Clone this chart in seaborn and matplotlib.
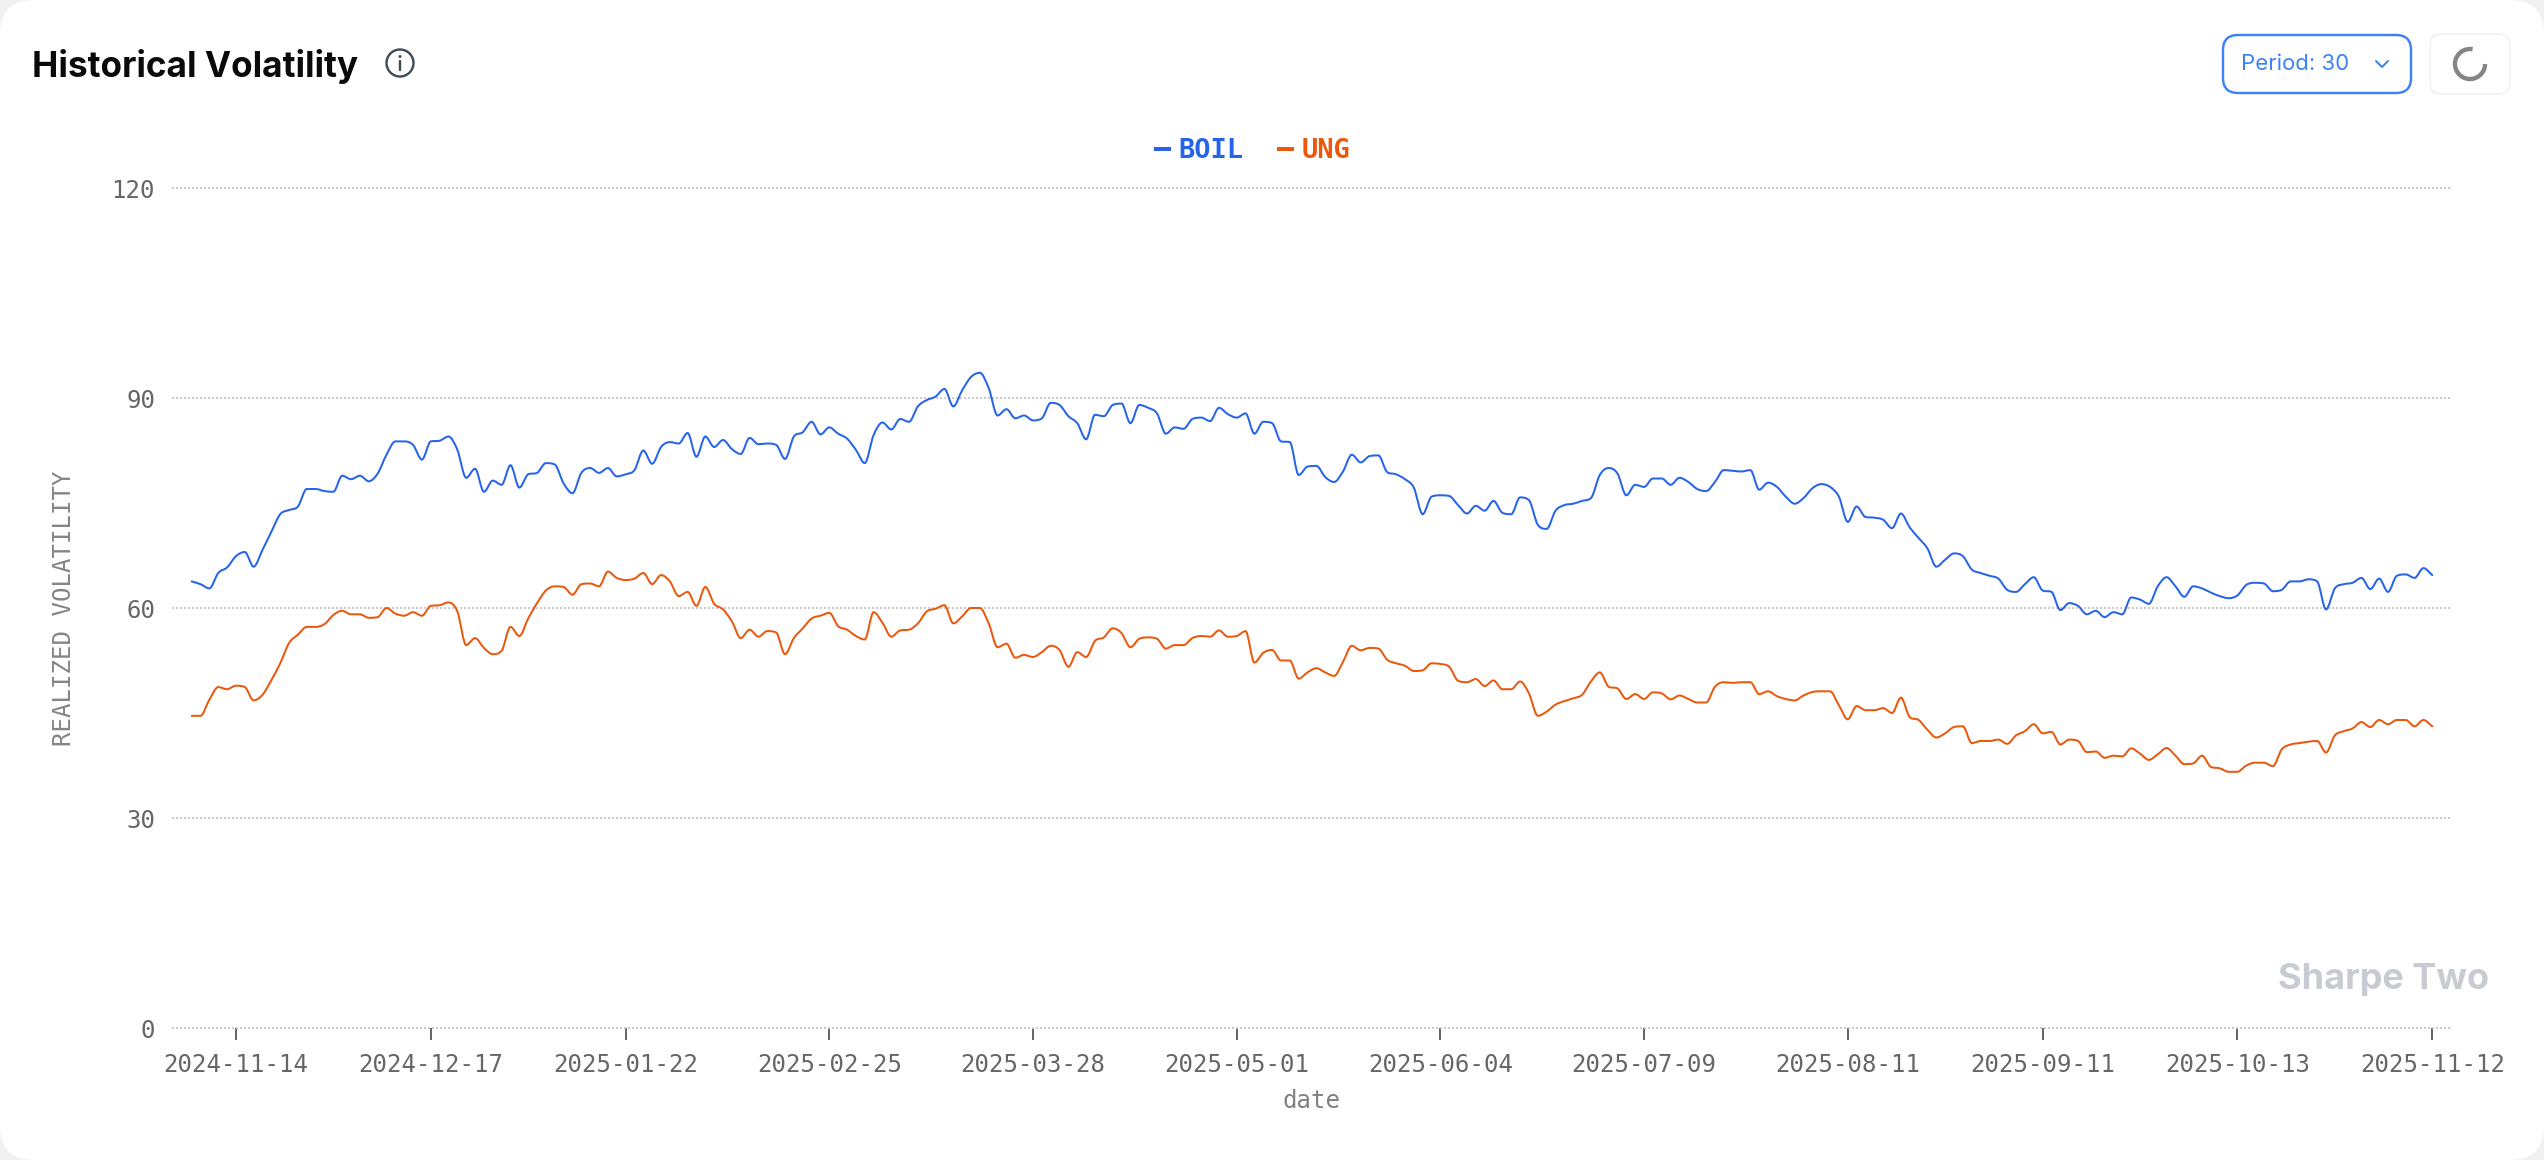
import numpy as np
import pandas as pd
import seaborn as sns
import matplotlib
matplotlib.use("Agg")
import matplotlib.pyplot as plt
from matplotlib.patches import FancyBboxPatch, Circle, Arc, PathPatch
from matplotlib.path import Path
from matplotlib.lines import Line2D

boil = [63.8,63.4,62.8,65.0,65.8,67.4,68.0,65.9,68.3,70.9,73.4,74.0,74.5,77.0,77.0,76.7,76.6,78.9,78.4,78.9,
        78.1,79.2,81.9,83.8,83.8,83.3,81.2,83.8,83.9,84.5,82.6,78.6,79.9,76.6,78.2,77.6,80.4,77.2,79.1,79.3,
        80.7,80.5,77.8,76.4,79.3,80.0,79.3,80.0,78.8,79.1,79.7,82.5,80.6,83.0,83.7,83.5,85.0,81.6,84.5,83.0,
        84.0,82.7,82.0,84.3,83.4,83.5,83.3,81.3,84.5,85.1,86.6,84.8,85.8,84.9,84.2,82.6,80.7,84.7,86.5,85.5,
        87.0,86.6,88.8,89.7,90.2,91.3,88.8,91.1,93.0,93.6,91.4,87.5,88.4,87.1,87.5,86.8,87.1,89.3,89.0,87.4,
        86.4,84.1,87.6,87.4,89.0,89.2,86.4,89.0,88.6,87.8,84.9,85.8,85.6,87.0,87.2,86.7,88.6,87.7,87.2,87.8,
        84.9,86.6,86.4,83.8,83.7,79.0,80.2,80.3,78.7,78.0,79.5,81.9,80.8,81.7,81.8,79.4,79.1,78.4,77.2,73.4,
        75.9,76.1,76.0,74.7,73.5,74.6,73.9,75.3,73.6,73.4,75.8,75.4,71.9,71.3,73.9,74.7,74.9,75.3,75.7,79.0,
        80.0,79.2,76.1,77.6,77.3,78.5,78.5,77.6,78.6,78.0,77.0,76.7,78.0,79.7,79.6,79.5,79.7,76.9,77.9,77.3,
        75.9,74.9,75.7,77.1,77.7,77.3,75.9,72.3,74.5,73.0,72.9,72.6,71.4,73.5,71.5,70.0,68.5,65.9,66.9,67.8,
        67.4,65.5,65.0,64.6,64.2,62.6,62.3,63.4,64.4,62.5,62.3,59.7,60.7,60.3,59.1,59.6,58.7,59.4,59.1,61.5,
        61.2,60.6,63.1,64.4,63.1,61.6,63.1,62.8,62.2,61.7,61.4,61.8,63.3,63.6,63.5,62.4,62.6,63.8,63.8,64.1,
        63.8,59.8,62.8,63.4,63.6,64.3,62.7,64.2,62.3,64.6,64.8,64.3,65.7,64.7]

ung = [44.6,44.6,46.9,48.7,48.4,48.9,48.7,46.8,47.6,49.7,52.1,55.0,56.2,57.3,57.3,57.7,59.0,59.6,59.1,59.1,
       58.6,58.7,60.0,59.2,58.9,59.4,58.9,60.3,60.4,60.8,59.5,54.7,55.7,54.3,53.4,53.9,57.3,56.0,58.5,60.7,
       62.5,63.1,63.0,61.9,63.4,63.5,63.1,65.2,64.3,64.0,64.2,65.0,63.4,64.7,63.8,61.7,62.3,60.3,63.0,60.6,
       59.8,58.1,55.7,56.9,55.9,56.7,56.5,53.4,55.7,57.1,58.5,58.9,59.3,57.4,56.9,56.0,55.5,59.4,57.9,55.9,
       56.8,56.9,57.8,59.5,59.9,60.4,57.8,58.8,60.0,60.0,57.8,54.4,54.9,52.9,53.3,53.0,53.7,54.6,54.0,51.6,
       53.7,53.0,55.3,55.8,57.1,56.4,54.4,55.6,55.8,55.6,54.2,54.7,54.7,55.7,56.0,55.9,56.8,55.9,56.0,56.7,
       52.2,53.6,54.0,52.5,52.5,49.9,50.8,51.4,50.8,50.3,52.3,54.6,53.95,54.3,54.2,52.6,52.1,51.75,51.0,51.1,
       52.1,52.0,51.6,49.6,49.4,49.85,48.85,49.65,48.4,48.4,49.5,47.8,44.6,45.2,46.2,46.7,47.1,47.6,49.5,50.8,
       48.75,48.5,47.0,47.7,47.0,47.95,47.8,46.95,47.5,47.0,46.5,46.5,48.75,49.4,49.3,49.4,49.4,47.7,48.1,47.4,
       47.0,46.8,47.5,48.0,48.1,48.1,46.1,44.1,46.0,45.4,45.4,45.7,45.0,47.2,44.4,44.0,42.6,41.5,42.1,43.0,
       43.1,40.7,41.0,41.0,41.2,40.6,41.8,42.4,43.4,42.1,42.3,40.5,41.2,41.0,39.4,39.5,38.6,38.9,38.8,39.95,
       39.2,38.3,39.1,40.0,38.9,37.7,37.8,38.9,37.3,37.1,36.6,36.6,37.5,37.9,37.9,37.4,39.8,40.5,40.7,40.9,
       41.0,39.35,41.8,42.4,42.8,43.7,43.0,44.0,43.4,44.0,44.0,43.1,44.0,43.1]

tick_index = [5,27,49,72,95,118,141,164,187,209,231,253]
tick_labels = ["2024-11-14","2024-12-17","2025-01-22","2025-02-25","2025-03-28","2025-05-01",
               "2025-06-04","2025-07-09","2025-08-11","2025-09-11","2025-10-13","2025-11-12"]
y_ticks = [0,30,60,90,120]
BLUE, ORANGE = "#2563EB", "#EA580C"

W, H = 2544, 1160
DPI = 100
px = 72 / DPI
sns.set_theme(style="white")
plt.rcParams["font.family"] = ["DejaVu Sans Mono"]
MONO = 24 * px
GRAY = "#666666"

fig = plt.figure(figsize=(W/DPI, H/DPI), dpi=DPI, facecolor="#F1F1F2")

# card + UI layer in pixel coordinates
ui = fig.add_axes([0, 0, 1, 1], zorder=0)
ui.set_xlim(0, W); ui.set_ylim(H, 0); ui.axis("off")
ui.add_patch(FancyBboxPatch((0, 0), W, H, boxstyle="round,pad=0,rounding_size=34",
                            fc="white", ec="none"))
ui.text(32, 66, "Historical Volatility", family="Inter", weight="bold", fontsize=35.2*px,
        color="#0A0A0A", va="center", ha="left")
ui.add_patch(Circle((400, 63), 13.5, fc="none", ec="#414B5A", lw=2.4*px))
ui.add_patch(Circle((400, 56.5), 1.5, fc="#414B5A", ec="none"))
ui.plot([400, 400], [61, 70], color="#414B5A", lw=2.4*px, solid_capstyle="round")
ui.add_patch(FancyBboxPatch((2223, 35), 188, 58, boxstyle="round,pad=0,rounding_size=15",
                            fc="white", ec="#3B82F6", lw=2.4*px))
ui.text(2241, 63.5, "Period: 30", family="Inter", fontsize=22.2*px, color="#3B82F6", va="center", ha="left")
ui.plot([2376, 2382, 2388], [61, 67, 61], color="#3B82F6", lw=2*px)
ui.add_patch(FancyBboxPatch((2430, 34), 80, 60, boxstyle="round,pad=0,rounding_size=12",
                            fc="white", ec="#F3F3F3", lw=2*px))
ui.add_patch(Arc((2470, 64), 30, 30, theta1=-0, theta2=280, angle=0, ec="#858585", lw=4.4*px))
ui.text(2383, 980, "Sharpe Two", family="Inter", weight="bold", fontsize=36*px, color="#C8CBD1",
        va="center", ha="center")
ui.text(64, 608, "REALIZED VOLATILITY", fontsize=MONO, color="#858585", rotation=90, va="center", ha="center")
ui.text(1311, 1101, "date", fontsize=MONO, color="#808080", va="center", ha="center")

# chart
L, R, T, B = 172, 2450, 188, 1028
ax = fig.add_axes([L/W, 1-B/H, (R-L)/W, (B-T)/H], zorder=1)
ax.patch.set_alpha(0)
df = pd.DataFrame({"idx": list(range(len(boil)))*2,
                   "vol": boil + ung,
                   "sym": ["BOIL"]*len(boil) + ["UNG"]*len(ung)})
sns.lineplot(data=df, x="idx", y="vol", hue="sym", palette={"BOIL": BLUE, "UNG": ORANGE},
             lw=2*px, legend=False, ax=ax, zorder=3)

# The reference uses a monotone smoothed line: redraw each seaborn line as a Bezier through its own points.
for line in list(ax.lines):
    xy = np.asarray(line.get_xydata(), float)
    n = len(xy)
    d = np.diff(xy[:, 1])
    m = np.zeros(n)
    m[1:-1] = np.where(d[:-1] * d[1:] > 0,
                       np.sign(d[1:]) * np.minimum(np.minimum(np.abs(d[:-1]), np.abs(d[1:])) * 3,
                                                   np.abs(d[:-1] + d[1:]) / 2), 0.0)
    m[0], m[-1] = d[0], d[-1]
    verts = [xy[0]]
    codes = [Path.MOVETO]
    for i in range(n - 1):
        verts += [xy[i] + [1/3, m[i]/3], xy[i+1] - [1/3, m[i+1]/3], xy[i+1]]
        codes += [Path.CURVE4] * 3
    ax.add_patch(PathPatch(Path(np.array(verts), codes), fc="none", ec=line.get_color(),
                           lw=2*px, capstyle="round", joinstyle="round", zorder=3))
    line.set_visible(False)

ax.set_xlim(-2.22, 255)
ax.set_ylim(0, 120)
ax.set_xticks(tick_index); ax.set_xticklabels(tick_labels)
ax.set_yticks(y_ticks)
ax.set_xlabel(""); ax.set_ylabel("")
for s in ax.spines.values():
    s.set_visible(False)
ax.grid(False)
ax.yaxis.grid(True, color="#CBCBCB", lw=2*px, linestyle=(0, (1, 1)))
ax.set_axisbelow(True)
for g in ax.yaxis.get_gridlines():
    g.set_clip_on(False)
ax.tick_params(axis="x", length=12*px, width=2*px, color=GRAY, labelcolor=GRAY, labelsize=MONO, pad=13*px, bottom=True)
ax.tick_params(axis="y", length=0, labelcolor=GRAY, labelsize=MONO, pad=17*px)

handles = [Line2D([], [], color=BLUE, lw=4*px, solid_capstyle="butt"),
           Line2D([], [], color=ORANGE, lw=4*px, solid_capstyle="butt")]
fs = 27*px
leg = fig.legend(handles, ["BOIL", "UNG"], ncol=2, frameon=False, loc="center",
                 bbox_to_anchor=(1252/W, 1-151/H), prop={"family": "DejaVu Sans Mono", "weight": "bold", "size": fs},
                 labelcolor="linecolor", handlelength=0.62, handletextpad=0.28, columnspacing=1.25)
leg.set_zorder(5)

fig.savefig("out.png", dpi=DPI, facecolor=fig.get_facecolor())
